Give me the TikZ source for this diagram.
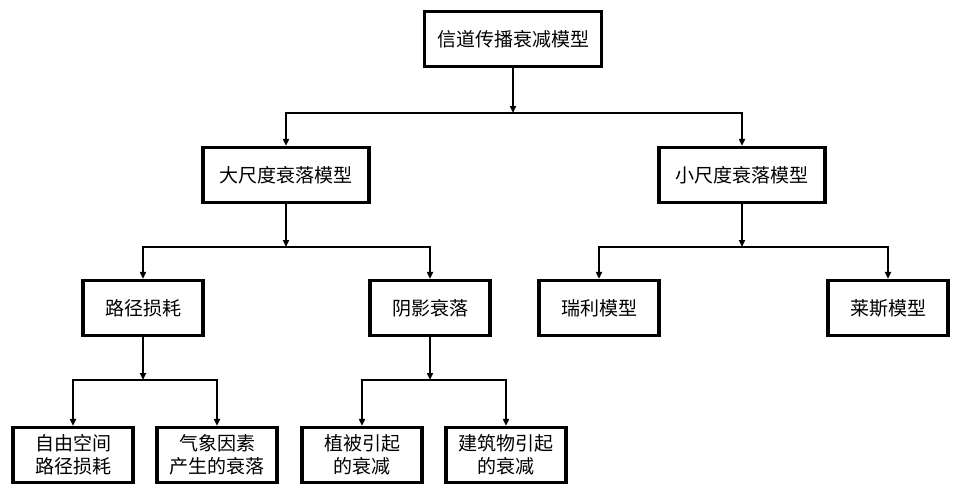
\documentclass[tikz,border=0pt]{standalone}
\usepackage{fontspec}
\newfontfamily\cjk{Noto Sans CJK SC}
\usetikzlibrary{arrows.meta}
\begin{document}
\begin{tikzpicture}[x=1pt, y=-1pt,
    box/.style={draw, line width=3.2pt, inner sep=0pt, align=center,
                minimum width=120pt, minimum height=55pt,
                font=\cjk\fontsize{19}{23}\selectfont},
    link/.style={line width=1.8pt, -{Triangle[length=7pt,width=6pt]}}]
                \useasboundingbox (0,0) rectangle (963,496);
                % boxes
                \node [box, minimum width=177pt] (root) at (513,39) {信道传播衰减模型};
                \node [box, minimum width=166pt] (large) at (286,175) {大尺度衰落模型};
                \node [box, minimum width=166pt] (small) at (742,175) {小尺度衰落模型};
                \node [box] (path) at (143,308) {路径损耗};
                \node [box] (shadow) at (430,308) {阴影衰落};
                \node [box] (rayleigh) at (599,308) {瑞利模型};
                \node [box] (rice) at (888,308) {莱斯模型};
                \node [box] (free) at (73,455) {自由空间\\路径损耗};
                \node [box] (weather) at (217,455) {气象因素\\产生的衰落};
                \node [box] (plant) at (362,455) {植被引起\\的衰减};
                \node [box] (building) at (506,455) {建筑物引起\\的衰减};
                % junctions
                \coordinate (j root) at (513,113);
                \coordinate (j large) at (286,247);
                \coordinate (j small) at (742,247);
                \coordinate (j path) at (143,380);
                \coordinate (j shadow) at (430,380);
                % connectors
                \foreach \a in {root,large,small,path,shadow}
                    \draw [link] (\a) -- (j \a);
                \foreach \a/\b in {root/large,root/small,large/path,large/shadow,
                                   small/rayleigh,small/rice,path/free,path/weather,
                                   shadow/plant,shadow/building}
                    \draw [link] (j \a) -| (\b);
            \end{tikzpicture}
\end{document}
